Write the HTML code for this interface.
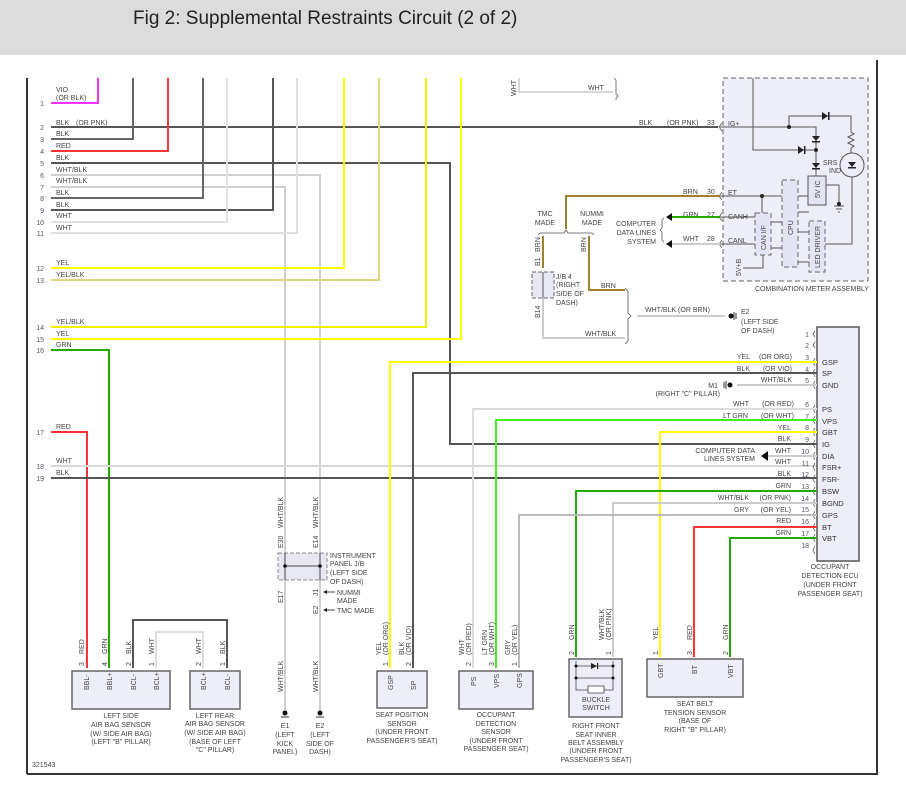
<!DOCTYPE html>
<html><head><meta charset="utf-8"><style>
html,body{margin:0;padding:0;background:#fff;}
svg{display:block;font-family:"Liberation Sans",sans-serif;}
.t{font-size:7px;fill:#444;}
.n{font-size:7px;fill:#556;}
.p{font-size:7.5px;fill:#333;}
.c{font-size:7px;fill:#444;text-anchor:middle;}
.w{fill:none;stroke-width:2;}
</style></head><body>
<svg width="906" height="798" viewBox="0 0 906 798" xmlns="http://www.w3.org/2000/svg">
<rect x="0" y="0" width="906" height="55" fill="#dcdcdc"/>
<text x="133" y="24" font-size="19" fill="#222">Fig 2: Supplemental Restraints Circuit (2 of 2)</text>
<!-- frame -->
<line x1="27" y1="78" x2="27" y2="774" stroke="#333" stroke-width="2"/>
<line x1="27" y1="774" x2="878" y2="774" stroke="#333" stroke-width="2"/>
<line x1="877" y1="60" x2="877" y2="774" stroke="#333" stroke-width="2"/>

<!-- left pin numbers -->
<g class="n" text-anchor="end">
<text x="44" y="106">1</text><text x="44" y="130">2</text><text x="44" y="142">3</text><text x="44" y="154">4</text>
<text x="44" y="166">5</text><text x="44" y="178">6</text><text x="44" y="190">7</text><text x="44" y="201">8</text>
<text x="44" y="213">9</text><text x="44" y="225">10</text><text x="44" y="236">11</text><text x="44" y="271">12</text>
<text x="44" y="283">13</text><text x="44" y="330">14</text><text x="44" y="342">15</text><text x="44" y="353">16</text>
<text x="44" y="435">17</text><text x="44" y="469">18</text><text x="44" y="481">19</text>
</g>
<g class="t">
<text x="56" y="92">VIO</text><text x="56" y="100">(OR BLK)</text>
<text x="56" y="125">BLK</text><text x="76" y="125">(OR PNK)</text>
<text x="56" y="136">BLK</text><text x="56" y="148">RED</text><text x="56" y="160">BLK</text>
<text x="56" y="172">WHT/BLK</text><text x="56" y="183">WHT/BLK</text><text x="56" y="195">BLK</text>
<text x="56" y="207">BLK</text><text x="56" y="218">WHT</text><text x="56" y="230">WHT</text>
<text x="56" y="265">YEL</text><text x="56" y="277">YEL/BLK</text>
<text x="56" y="324">YEL/BLK</text><text x="56" y="336">YEL</text><text x="56" y="347">GRN</text>
<text x="56" y="429">RED</text><text x="56" y="463">WHT</text><text x="56" y="475">BLK</text>
</g>

<!-- left wires -->
<polyline class="w" stroke="#ff33ff" points="51,103 98,103 98,78"/>
<polyline class="w" stroke="#555" points="51,127 718,127"/>
<polyline class="w" stroke="#666" points="51,139 133,139 133,78"/>
<polyline class="w" stroke="#ff3333" points="51,151 168,151 168,78"/>
<polyline class="w" stroke="#555" points="51,163 450,163 450,444 817,444"/>
<polyline class="w" stroke="#d0d0d0" points="51,175 320,175 320,553"/>
<polyline class="w" stroke="#d0d0d0" points="51,187 285,187 285,553"/>
<polyline class="w" stroke="#666" points="51,198 203,198 203,78"/>
<polyline class="w" stroke="#555" points="51,210 273,210 273,78"/>
<polyline class="w" stroke="#e0e0e0" points="51,222 227,222 227,78"/>
<polyline class="w" stroke="#e0e0e0" points="51,233 297,233 297,78"/>
<polyline class="w" stroke="#ffff00" points="51,268 344,268 344,78"/>
<polyline class="w" stroke="#ddd880" points="51,280 379,280 379,78"/>
<polyline class="w" stroke="#f0f000" points="51,327 426,327 426,78"/>
<polyline class="w" stroke="#ffff00" points="51,339 461,339 461,78"/>
<polyline class="w" stroke="#22aa00" points="51,350 109,350 109,668"/>
<polyline class="w" stroke="#ff3333" points="51,432 87,432 87,668"/>
<polyline class="w" stroke="#d8d8d8" points="51,466 817,466"/>
<polyline class="w" stroke="#555" points="51,478 817,478"/>

<!-- top WHT -->
<polyline fill="none" stroke="#ccc" stroke-width="1.5" points="519,78 519,92 613,92"/>
<path d="M614,78 L616,80 L616,94 L618,96 L616,98 L616,100" fill="none" stroke="#555" stroke-width="0.8"/>
<text class="t" transform="translate(516,96) rotate(-90)">WHT</text>
<text class="t" x="588" y="90">WHT</text>

<!-- combination meter -->
<rect x="723" y="78" width="145" height="203" fill="#eeeef8" stroke="#666" stroke-dasharray="5,3"/>
<g fill="none" stroke="#555" stroke-width="1">
<polyline points="753,78 753,150 816,150"/>
<polyline points="720,127 816,127 816,176"/>
<polyline points="789,127 789,116 851,116 851,132"/>
<path d="M851,132 l3,2 l-6,3 l6,3 l-6,3 l6,3 l-3,2"/>
<line x1="851" y1="148" x2="851" y2="153"/>
<circle cx="852" cy="165" r="12"/>
<polyline points="852,177 852,244 825,244"/>
<polyline points="720,196 782,196"/>
<polyline points="798,196 808,196"/>
<polyline points="762,196 762,213"/>
<polyline points="826,185 839,185 839,204"/>
<polyline points="720,217 755,217"/><polyline points="720,244 755,244"/>
<polyline points="771,222 782,222"/><polyline points="771,248 782,248"/>
<polyline points="798,212 809,212"/><polyline points="798,232 809,232"/><polyline points="798,262 809,262"/>
<polyline points="743,268 763,268 763,255"/>
<line x1="834" y1="206" x2="844" y2="206"/><line x1="836" y1="209" x2="842" y2="209"/><line x1="838" y1="212" x2="840" y2="212"/>
</g>
<g fill="#222">
<circle cx="789" cy="127" r="2"/><circle cx="816" cy="150" r="2"/><circle cx="762" cy="196" r="2"/>
<path d="M822,112 l6,4 l-6,4z"/><rect x="828" y="112" width="1.5" height="8"/>
<path d="M812,136 l8,0 l-4,5z"/><rect x="812" y="141" width="8" height="1.5"/>
<path d="M798,146 l6,4 l-6,4z"/><rect x="804" y="146" width="1.5" height="8"/>
<path d="M812,163 l8,0 l-4,5z"/><rect x="812" y="168" width="8" height="1.5"/>
<path d="M848,162 l8,0 l-4,5z"/><rect x="848" y="167" width="8" height="1.5"/>
<circle cx="839" cy="204" r="2"/>
</g>
<rect x="808" y="176" width="18" height="29" fill="#e4e4f4" stroke="#555"/>
<text class="t" transform="translate(820,198) rotate(-90)">5V IC</text>
<rect x="782" y="180" width="16" height="87" fill="#e4e4f4" stroke="#666" stroke-dasharray="5,3"/>
<text class="t" transform="translate(793,235) rotate(-90)">CPU</text>
<rect x="755" y="213" width="16" height="42" fill="#e4e4f4" stroke="#666" stroke-dasharray="5,3"/>
<text class="t" transform="translate(766,250) rotate(-90)">CAN I/F</text>
<rect x="809" y="221" width="16" height="51" fill="#e4e4f4" stroke="#666" stroke-dasharray="5,3"/>
<text class="t" transform="translate(820,268) rotate(-90)">LED DRIVER</text>
<text class="t" transform="translate(741,276) rotate(-90)">5V+B</text>
<text class="t" x="823" y="165">SRS</text><text class="t" x="829" y="173">IND</text>
<text class="t" x="755" y="291">COMBINATION METER ASSEMBLY</text>
<g class="t">
<text x="728" y="126">IG+</text><text x="728" y="195">ET</text><text x="728" y="219">CANH</text><text x="728" y="243">CANL</text>
<text x="707" y="125">33</text><text x="707" y="194">30</text><text x="707" y="217">27</text><text x="707" y="241">28</text>
<text x="639" y="125">BLK</text><text x="667" y="125">(OR PNK)</text>
<text x="683" y="194">BRN</text><text x="683" y="217">GRN</text><text x="683" y="241">WHT</text>
</g>
<g fill="none" stroke="#555" stroke-width="0.8">
<path d="M722,123 l-3,4 l3,4"/><path d="M722,192 l-3,4 l3,4"/><path d="M722,213 l-3,4 l3,4"/><path d="M722,240 l-3,4 l3,4"/>
</g>
<line x1="672" y1="217" x2="720" y2="217" stroke="#22aa00" stroke-width="2"/>
<line x1="672" y1="244" x2="720" y2="244" stroke="#ccc" stroke-width="2"/>
<path d="M666,217 l6,-4 l0,8z M666,244 l6,-4 l0,8z" fill="#111"/>
<path d="M664,218 l-2,2 l0,8 l-2,2 l2,2 l0,8 l2,2" fill="none" stroke="#555" stroke-width="0.8"/>
<g class="t" text-anchor="end"><text x="656" y="226">COMPUTER</text><text x="656" y="235">DATA LINES</text><text x="656" y="244">SYSTEM</text></g>

<!-- brown / JB4 -->
<polyline class="w" stroke="#a08030" points="720,196 566,196 566,229"/>
<path d="M538,235 l2,-2 l24,0 l2,-3 l2,3 l24,0 l2,2" fill="none" stroke="#555" stroke-width="0.8"/>
<g class="t" text-anchor="middle"><text x="545" y="216">TMC</text><text x="545" y="225">MADE</text><text x="592" y="216">NUMMI</text><text x="592" y="225">MADE</text></g>
<polyline class="w" stroke="#a08030" points="543,236 543,268"/>
<polyline class="w" stroke="#a08030" points="589,236 589,290 625,290"/>
<text class="t" transform="translate(540,252) rotate(-90)">BRN</text>
<text class="t" transform="translate(586,252) rotate(-90)">BRN</text>
<text class="t" x="601" y="288">BRN</text>
<rect x="532" y="272" width="22" height="26" fill="#e8e8f2" stroke="#666" stroke-dasharray="4,2"/>
<line x1="543" y1="272" x2="543" y2="298" stroke="#555"/>
<text class="t" transform="translate(540,266) rotate(-90)">B1</text>
<text class="t" transform="translate(540,318) rotate(-90)">B14</text>
<g class="t"><text x="556" y="279">J/B 4</text><text x="556" y="287">(RIGHT</text><text x="556" y="296">SIDE OF</text><text x="556" y="305">DASH)</text></g>
<polyline class="w" stroke="#ccc" points="543,298 543,338 625,338"/>
<text class="t" x="585" y="336">WHT/BLK</text>
<path d="M625,288 l3,3 l0,22 l3,3 l-3,3 l0,22 l-3,3" fill="none" stroke="#555" stroke-width="0.8"/>
<line x1="637" y1="316" x2="725" y2="316" stroke="#ccc" stroke-width="2"/>
<text class="t" x="645" y="312">WHT/BLK  (OR BRN)</text>
<circle cx="731" cy="316" r="2.5" fill="#111"/><line x1="734" y1="312" x2="734" y2="320" stroke="#333"/><line x1="736" y1="313" x2="736" y2="319" stroke="#333"/>
<g class="t"><text x="741" y="314">E2</text><text x="741" y="324">(LEFT SIDE</text><text x="741" y="333">OF DASH)</text></g>

<!-- ECU -->
<rect x="817" y="327" width="42" height="234" fill="#eeeef8" stroke="#555" stroke-width="1.5"/>
<g class="n" text-anchor="end">
<text x="809" y="337">1</text><text x="809" y="348">2</text><text x="809" y="360">3</text><text x="809" y="372">4</text>
<text x="809" y="383">5</text><text x="809" y="407">6</text><text x="809" y="419">7</text><text x="809" y="430">8</text>
<text x="809" y="442">9</text><text x="809" y="454">10</text><text x="809" y="466">11</text><text x="809" y="477">12</text>
<text x="809" y="489">13</text><text x="809" y="501">14</text><text x="809" y="512">15</text><text x="809" y="524">16</text>
<text x="809" y="536">17</text><text x="809" y="548">18</text>
</g>
<g class="p">
<text x="822" y="365">GSP</text><text x="822" y="376">SP</text><text x="822" y="388">GND</text><text x="822" y="412">PS</text>
<text x="822" y="424">VPS</text><text x="822" y="435">GBT</text><text x="822" y="447">IG</text><text x="822" y="459">DIA</text>
<text x="822" y="470">FSR+</text><text x="822" y="482">FSR-</text><text x="822" y="494">BSW</text><text x="822" y="506">BGND</text>
<text x="822" y="518">GPS</text><text x="822" y="530">BT</text><text x="822" y="541">VBT</text>
</g>
<g fill="none" stroke="#555" stroke-width="0.8">
<path d="M815,331 l-2,3 l2,3"/><path d="M815,342 l-2,3 l2,3"/><path d="M815,358 l-2,4 l2,4"/><path d="M815,369 l-2,4 l2,4"/>
<path d="M815,381 l-2,4 l2,4"/><path d="M815,405 l-2,4 l2,4"/><path d="M815,416 l-2,4 l2,4"/><path d="M815,428 l-2,4 l2,4"/>
<path d="M815,440 l-2,4 l2,4"/><path d="M815,452 l-2,4 l2,4"/><path d="M815,463 l-2,4 l2,4"/><path d="M815,475 l-2,4 l2,4"/>
<path d="M815,487 l-2,4 l2,4"/><path d="M815,499 l-2,4 l2,4"/><path d="M815,511 l-2,4 l2,4"/><path d="M815,523 l-2,4 l2,4"/>
<path d="M815,534 l-2,4 l2,4"/><path d="M815,546 l-2,4 l2,4"/>
</g>
<g class="t" text-anchor="end">
<text x="750" y="359">YEL</text><text x="792" y="359">(OR ORG)</text>
<text x="750" y="371">BLK</text><text x="792" y="371">(OR VIO)</text>
<text x="792" y="382">WHT/BLK</text>
<text x="749" y="406">WHT</text><text x="794" y="406">(OR RED)</text>
<text x="748" y="418">LT GRN</text><text x="794" y="418">(OR WHT)</text>
<text x="791" y="430">YEL</text><text x="791" y="441">BLK</text><text x="791" y="453">WHT</text><text x="791" y="464">WHT</text>
<text x="791" y="476">BLK</text><text x="791" y="488">GRN</text>
<text x="749" y="500">WHT/BLK</text><text x="791" y="500">(OR PNK)</text>
<text x="749" y="512">GRY</text><text x="791" y="512">(OR YEL)</text>
<text x="791" y="523">RED</text><text x="791" y="535">GRN</text>
<text x="718" y="388">M1</text>
<text x="720" y="396">(RIGHT "C" PILLAR)</text>
<text x="755" y="453">COMPUTER DATA</text><text x="755" y="461">LINES SYSTEM</text>
</g>
<g class="c"><text x="830" y="569">OCCUPANT</text><text x="830" y="578">DETECTION ECU</text><text x="830" y="587">(UNDER FRONT</text><text x="830" y="596">PASSENGER SEAT)</text></g>
<!-- ECU wires -->
<polyline class="w" stroke="#ffff00" points="817,362 390,362 390,668"/>
<polyline class="w" stroke="#555" points="817,373 413,373 413,668"/>
<line x1="737" y1="385" x2="817" y2="385" stroke="#ccc" stroke-width="2"/>
<circle cx="730" cy="385" r="2.5" fill="#111"/><line x1="726" y1="381" x2="726" y2="389" stroke="#333"/><line x1="724" y1="382" x2="724" y2="388" stroke="#333"/>
<polyline class="w" stroke="#ddd" points="817,409 473,409 473,668"/>
<polyline class="w" stroke="#44ee22" points="817,420 496,420 496,668"/>
<polyline class="w" stroke="#ffff00" points="817,432 660,432 660,657"/>
<line x1="768" y1="456" x2="817" y2="456" stroke="#ccc" stroke-width="2"/>
<path d="M761,456 l7,-5 l0,10z" fill="#111"/>
<polyline class="w" stroke="#22aa00" points="817,491 576,491 576,657"/>
<polyline class="w" stroke="#ccc" points="817,503 613,503 613,657"/>
<polyline class="w" stroke="#bbb" points="817,515 519,515 519,668"/>
<polyline class="w" stroke="#ff3333" points="817,527 694,527 694,657"/>
<polyline class="w" stroke="#22aa00" points="817,538 730,538 730,657"/>

<!-- Instrument panel J/B -->
<polyline class="w" stroke="#d0d0d0" points="285,580 285,710"/>
<polyline class="w" stroke="#d0d0d0" points="320,580 320,710"/>
<rect x="278" y="553" width="49" height="27" fill="#e8e8f2" stroke="#888" stroke-dasharray="4,2"/>
<g stroke="#444" stroke-width="1"><line x1="285" y1="553" x2="285" y2="580"/><line x1="320" y1="553" x2="320" y2="580"/><line x1="285" y1="566" x2="320" y2="566"/></g>
<circle cx="285" cy="566" r="1.8" fill="#111"/><circle cx="320" cy="566" r="1.8" fill="#111"/>
<g class="t">
<text transform="translate(283,548) rotate(-90)">E30</text><text transform="translate(318,548) rotate(-90)">E14</text>
<text transform="translate(283,603) rotate(-90)">E17</text><text transform="translate(318,596) rotate(-90)">J1</text>
<text transform="translate(318,614) rotate(-90)">E2</text>
<text transform="translate(283,528) rotate(-90)">WHT/BLK</text><text transform="translate(318,528) rotate(-90)">WHT/BLK</text>
<text transform="translate(283,692) rotate(-90)">WHT/BLK</text><text transform="translate(318,692) rotate(-90)">WHT/BLK</text>
<text x="330" y="558">INSTRUMENT</text><text x="330" y="566">PANEL J/B</text><text x="330" y="575">(LEFT SIDE</text><text x="330" y="584">OF DASH)</text>
<text x="337" y="595">NUMMI</text><text x="337" y="603">MADE</text><text x="337" y="613">TMC MADE</text>
</g>
<path d="M323,592 l4,-2 l0,4z M323,610 l4,-2 l0,4z" fill="#222"/>
<line x1="327" y1="592" x2="335" y2="592" stroke="#444"/><line x1="327" y1="610" x2="335" y2="610" stroke="#444"/>
<circle cx="285" cy="713" r="2.5" fill="#111"/><line x1="281" y1="717" x2="289" y2="717" stroke="#333"/>
<circle cx="320" cy="713" r="2.5" fill="#111"/><line x1="316" y1="717" x2="324" y2="717" stroke="#333"/>
<g class="c"><text x="285" y="728">E1</text><text x="285" y="737">(LEFT</text><text x="285" y="746">KICK</text><text x="285" y="754">PANEL)</text>
<text x="320" y="728">E2</text><text x="320" y="737">(LEFT</text><text x="320" y="746">SIDE OF</text><text x="320" y="754">DASH)</text></g>

<!-- Left side sensors -->
<polyline fill="none" stroke="#555" stroke-width="2" points="133,668 133,620 227,620 227,668"/>
<polyline fill="none" stroke="#ddd" stroke-width="2" points="156,668 156,632 203,632 203,668"/>
<rect x="72" y="671" width="98" height="38" fill="#eeeef8" stroke="#666" stroke-width="1.5"/>
<rect x="190" y="671" width="50" height="38" fill="#eeeef8" stroke="#666" stroke-width="1.5"/>
<g class="t">
<text transform="translate(89,690) rotate(-90)">BBL-</text><text transform="translate(112,690) rotate(-90)">BBL+</text>
<text transform="translate(136,690) rotate(-90)">BCL-</text><text transform="translate(159,690) rotate(-90)">BCL+</text>
<text transform="translate(206,690) rotate(-90)">BCL+</text><text transform="translate(230,690) rotate(-90)">BCL-</text>
<text transform="translate(84,666) rotate(-90)">3</text><text transform="translate(107,666) rotate(-90)">4</text>
<text transform="translate(131,666) rotate(-90)">2</text><text transform="translate(154,666) rotate(-90)">1</text>
<text transform="translate(201,666) rotate(-90)">2</text><text transform="translate(225,666) rotate(-90)">1</text>
<text transform="translate(84,654) rotate(-90)">RED</text><text transform="translate(107,654) rotate(-90)">GRN</text>
<text transform="translate(131,654) rotate(-90)">BLK</text><text transform="translate(154,654) rotate(-90)">WHT</text>
<text transform="translate(201,654) rotate(-90)">WHT</text><text transform="translate(225,654) rotate(-90)">BLK</text>
</g>
<g class="c"><text x="121" y="718">LEFT SIDE</text><text x="121" y="727">AIR BAG SENSOR</text><text x="121" y="736">(W/ SIDE AIR BAG)</text><text x="121" y="744">(LEFT "B" PILLAR)</text>
<text x="215" y="718">LEFT REAR</text><text x="215" y="726">AIR BAG SENSOR</text><text x="215" y="735">(W/ SIDE AIR BAG)</text><text x="215" y="744">(BASE OF LEFT</text><text x="215" y="752">"C" PILLAR)</text></g>

<!-- Seat position sensor -->
<rect x="377" y="671" width="50" height="37" fill="#eeeef8" stroke="#666" stroke-width="1.5"/>
<g class="t">
<text transform="translate(393,690) rotate(-90)">GSP</text><text transform="translate(416,690) rotate(-90)">SP</text>
<text transform="translate(388,666) rotate(-90)">1</text><text transform="translate(411,666) rotate(-90)">2</text>
<text transform="translate(381,655) rotate(-90)">YEL</text><text transform="translate(388,655) rotate(-90)">(OR ORG)</text>
<text transform="translate(404,655) rotate(-90)">BLK</text><text transform="translate(411,655) rotate(-90)">(OR VIO)</text>
</g>
<g class="c"><text x="402" y="717">SEAT POSITION</text><text x="402" y="726">SENSOR</text><text x="402" y="734">(UNDER FRONT</text><text x="402" y="743">PASSENGER'S SEAT)</text></g>

<!-- Occupant detection sensor -->
<rect x="459" y="671" width="74" height="38" fill="#eeeef8" stroke="#666" stroke-width="1.5"/>
<g class="t">
<text transform="translate(476,686) rotate(-90)">PS</text><text transform="translate(499,688) rotate(-90)">VPS</text><text transform="translate(522,688) rotate(-90)">GPS</text>
<text transform="translate(471,666) rotate(-90)">2</text><text transform="translate(494,666) rotate(-90)">3</text><text transform="translate(517,666) rotate(-90)">1</text>
<text transform="translate(464,655) rotate(-90)">WHT</text><text transform="translate(471,655) rotate(-90)">(OR RED)</text>
<text transform="translate(487,655) rotate(-90)">LT GRN</text><text transform="translate(494,655) rotate(-90)">(OR WHT)</text>
<text transform="translate(510,655) rotate(-90)">GRY</text><text transform="translate(517,655) rotate(-90)">(OR YEL)</text>
</g>
<g class="c"><text x="496" y="717">OCCUPANT</text><text x="496" y="726">DETECTION</text><text x="496" y="734">SENSOR</text><text x="496" y="743">(UNDER FRONT</text><text x="496" y="751">PASSENGER SEAT)</text></g>

<!-- Buckle -->
<rect x="569" y="659" width="53" height="58" fill="#eeeef8" stroke="#666" stroke-width="1.5"/>
<g fill="none" stroke="#444" stroke-width="0.8">
<polyline points="576,661 576,690 613,690 613,661"/>
<line x1="576" y1="666" x2="613" y2="666"/><line x1="576" y1="678" x2="613" y2="678"/>
<rect x="588" y="686" width="16" height="7" fill="#fff"/>
</g>
<path d="M591,663 l6,3 l-6,3z" fill="#222"/><rect x="597" y="663" width="1.2" height="6" fill="#222"/>
<g fill="#111"><circle cx="576" cy="666" r="1.5"/><circle cx="613" cy="666" r="1.5"/><circle cx="576" cy="678" r="1.5"/><circle cx="613" cy="678" r="1.5"/></g>
<g class="c"><text x="596" y="702">BUCKLE</text><text x="596" y="710">SWITCH</text>
<text x="596" y="728">RIGHT FRONT</text><text x="596" y="737">SEAT INNER</text><text x="596" y="745">BELT ASSEMBLY</text><text x="596" y="753">(UNDER FRONT</text><text x="596" y="762">PASSENGER'S SEAT)</text></g>
<g class="t">
<text transform="translate(574,655) rotate(-90)">2</text><text transform="translate(611,655) rotate(-90)">1</text>
<text transform="translate(574,640) rotate(-90)">GRN</text>
<text transform="translate(604,640) rotate(-90)">WHT/BLK</text><text transform="translate(611,640) rotate(-90)">(OR PNK)</text>
</g>

<!-- Tension sensor -->
<rect x="647" y="659" width="96" height="38" fill="#eeeef8" stroke="#666" stroke-width="1.5"/>
<g class="t">
<text transform="translate(663,678) rotate(-90)">GBT</text><text transform="translate(697,674) rotate(-90)">BT</text><text transform="translate(733,678) rotate(-90)">VBT</text>
<text transform="translate(658,655) rotate(-90)">1</text><text transform="translate(692,655) rotate(-90)">3</text><text transform="translate(728,655) rotate(-90)">2</text>
<text transform="translate(658,640) rotate(-90)">YEL</text><text transform="translate(692,640) rotate(-90)">RED</text><text transform="translate(728,640) rotate(-90)">GRN</text>
</g>
<g class="c"><text x="695" y="706">SEAT BELT</text><text x="695" y="715">TENSION SENSOR</text><text x="695" y="723">(BASE OF</text><text x="695" y="732">RIGHT "B" PILLAR)</text></g>

<text class="t" x="32" y="767">321543</text>
</svg>
</body></html>
